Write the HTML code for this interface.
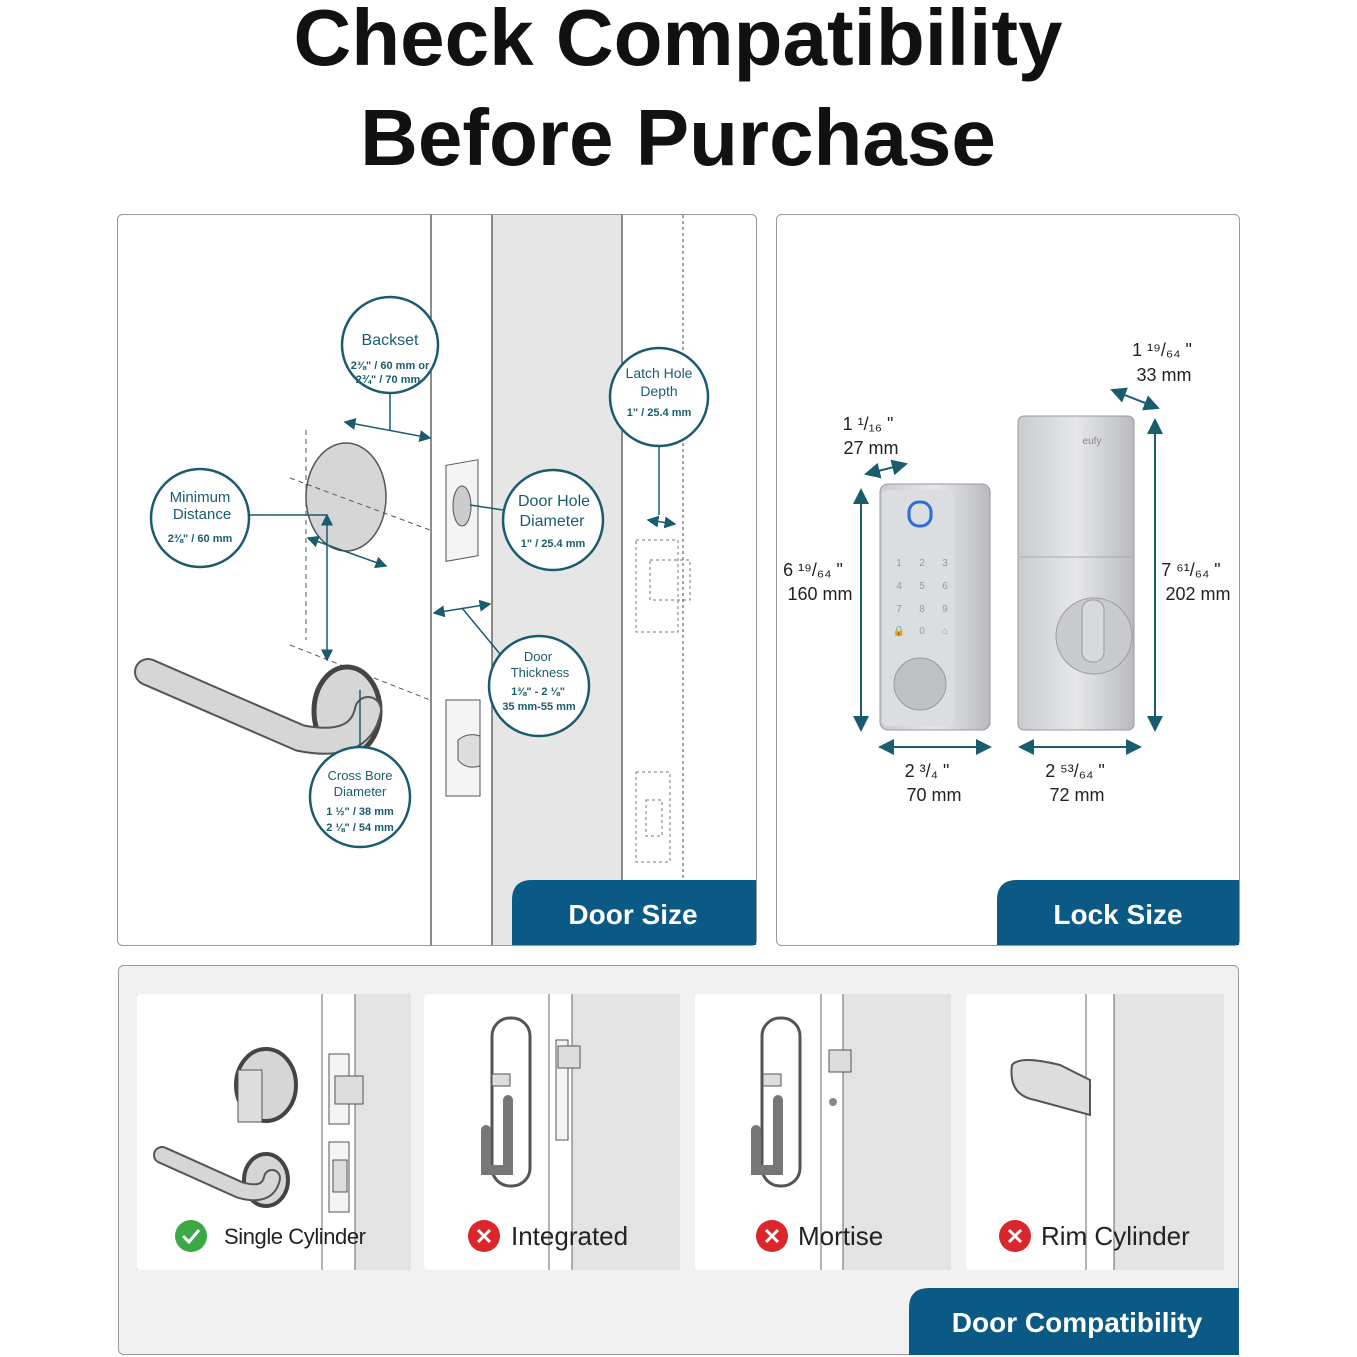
<!DOCTYPE html>
<html><head><meta charset="utf-8"><style>
html,body{margin:0;padding:0;background:#fff}
svg{display:block}
text{font-family:"Liberation Sans","DejaVu Sans",sans-serif}
</style></head><body>
<svg width="1357" height="1357" viewBox="0 0 1357 1357" xmlns="http://www.w3.org/2000/svg">
<defs>
<linearGradient id="sil" x1="0" x2="1"><stop offset="0" stop-color="#c9cbcf"/><stop offset="0.5" stop-color="#e6e7e9"/><stop offset="1" stop-color="#b9bbbf"/></linearGradient>
<marker id="ar" markerWidth="8" markerHeight="8" refX="7" refY="4" orient="auto-start-reverse"><path d="M0,0 L8,4 L0,8 z" fill="#1a5c6e"/></marker>
</defs>
<rect width="1357" height="1357" fill="#fff"/>
<text x="678" y="65" font-size="80" font-weight="bold" text-anchor="middle" fill="#111">Check Compatibility</text>
<text x="678" y="165" font-size="80" font-weight="bold" text-anchor="middle" fill="#111">Before Purchase</text>

<!-- Panel 1 -->
<rect x="117.5" y="214.5" width="639" height="731" rx="5" fill="#fff" stroke="#999"/>
<rect x="492" y="215" width="130" height="730" fill="#e6e6e6"/>
<line x1="431" y1="215" x2="431" y2="945" stroke="#666" stroke-width="1.5"/>
<line x1="492" y1="215" x2="492" y2="945" stroke="#666" stroke-width="1.5"/>
<line x1="622" y1="215" x2="622" y2="880" stroke="#666" stroke-width="1.5"/>
<line x1="683" y1="215" x2="683" y2="880" stroke="#666" stroke-width="1.2" stroke-dasharray="3,3"/>
<rect x="446" y="462" width="32" height="96" fill="#f4f4f4" stroke="#555" transform="skewY(-10) translate(0,82)"/>
<ellipse cx="462" cy="506" rx="9" ry="20" fill="#ccc" stroke="#555"/>
<rect x="446" y="700" width="34" height="96" fill="#f4f4f4" stroke="#555"/>
<path d="M458 740 q10 -8 22 -4 v30 q-14 4 -22 -6z" fill="#ddd" stroke="#555"/>
<rect x="636" y="540" width="42" height="92" fill="none" stroke="#777" stroke-dasharray="3,3"/>
<rect x="650" y="560" width="40" height="40" fill="none" stroke="#777" stroke-dasharray="3,3"/>
<rect x="636" y="772" width="34" height="90" fill="none" stroke="#777" stroke-dasharray="3,3"/>
<rect x="646" y="800" width="16" height="36" fill="none" stroke="#777" stroke-dasharray="3,3"/>
<ellipse cx="346" cy="497" rx="40" ry="54" fill="#d6d6d6" stroke="#555" stroke-width="1.5"/>
<line x1="290" y1="478" x2="430" y2="530" stroke="#555" stroke-dasharray="5,4"/>
<line x1="306" y1="430" x2="306" y2="640" stroke="#555" stroke-dasharray="5,4"/>
<line x1="290" y1="645" x2="430" y2="700" stroke="#555" stroke-dasharray="5,4"/>
<ellipse cx="347" cy="711" rx="33" ry="44" fill="#d6d6d6" stroke="#444" stroke-width="5"/>
<path d="M148 672 L300 738 Q360 750 368 710" fill="none" stroke="#555" stroke-width="28" stroke-linecap="round"/>
<path d="M148 672 L300 738 Q360 750 368 710" fill="none" stroke="#d6d6d6" stroke-width="24" stroke-linecap="round"/>
<g stroke="#1a5c6e" stroke-width="1.5" fill="none">
<line x1="345" y1="422" x2="430" y2="438" marker-start="url(#ar)" marker-end="url(#ar)"/>
<line x1="390" y1="393" x2="390" y2="430"/>
<line x1="248" y1="515" x2="327" y2="515"/>
<line x1="308" y1="538" x2="386" y2="566" marker-start="url(#ar)" marker-end="url(#ar)"/>
<line x1="327" y1="515" x2="327" y2="660" marker-start="url(#ar)" marker-end="url(#ar)"/>
<line x1="360" y1="690" x2="360" y2="747"/>
<line x1="470" y1="505" x2="503" y2="510"/>
<line x1="434" y1="613" x2="490" y2="604" marker-start="url(#ar)" marker-end="url(#ar)"/>
<line x1="462" y1="608" x2="500" y2="654"/>
<line x1="659" y1="447" x2="659" y2="515"/>
<line x1="648" y1="520" x2="675" y2="524" marker-start="url(#ar)" marker-end="url(#ar)"/>
</g>
<g fill="#fff" stroke="#1a5c6e" stroke-width="2.5">
<circle cx="390" cy="345" r="48"/><circle cx="200" cy="518" r="49"/><circle cx="553" cy="520" r="50"/>
<circle cx="659" cy="397" r="49"/><circle cx="539" cy="686" r="50"/><circle cx="360" cy="797" r="50"/>
</g>
<g fill="#1a5c6e" text-anchor="middle">
<text x="390" y="345" font-size="16">Backset</text>
<text x="390" y="369" font-size="11" font-weight="bold">2⅜" / 60 mm or</text>
<text x="388" y="383" font-size="11" font-weight="bold">2¾" / 70 mm</text>
<text x="200" y="502" font-size="15">Minimum</text><text x="202" y="519" font-size="15">Distance</text>
<text x="200" y="542" font-size="11" font-weight="bold">2⅜" / 60 mm</text>
<text x="554" y="506" font-size="16">Door Hole</text><text x="552" y="526" font-size="16">Diameter</text>
<text x="553" y="547" font-size="11" font-weight="bold">1" / 25.4 mm</text>
<text x="659" y="378" font-size="14">Latch Hole</text><text x="659" y="396" font-size="14">Depth</text>
<text x="659" y="416" font-size="11" font-weight="bold">1" / 25.4 mm</text>
<text x="538" y="661" font-size="13">Door</text><text x="540" y="677" font-size="13">Thickness</text>
<text x="538" y="695" font-size="11" font-weight="bold">1⅜" - 2 ⅛"</text>
<text x="539" y="710" font-size="11" font-weight="bold">35 mm-55 mm</text>
<text x="360" y="780" font-size="13">Cross Bore</text><text x="360" y="796" font-size="13">Diameter</text>
<text x="360" y="815" font-size="11" font-weight="bold">1 ½" / 38 mm</text>
<text x="360" y="831" font-size="11" font-weight="bold">2 ⅛" / 54 mm</text>
</g>
<path d="M512 945 V900 Q512 880 532 880 H756 V945 Z" fill="#0b5a86"/>
<text x="633" y="924" font-size="28" font-weight="bold" fill="#fff" text-anchor="middle">Door Size</text>

<!-- Panel 2 -->
<rect x="776.5" y="214.5" width="463" height="731" rx="5" fill="#fff" stroke="#999"/>
<rect x="880" y="484" width="110" height="246" rx="8" fill="url(#sil)" stroke="#999"/>
<rect x="882" y="490" width="72" height="236" rx="6" fill="#dcdde0"/>
<rect x="909" y="502" width="22" height="24" rx="10" fill="none" stroke="#2a6fd6" stroke-width="3"/>
<g font-size="10" fill="#999" text-anchor="middle">
<text x="899" y="566">1</text><text x="922" y="566">2</text><text x="945" y="566">3</text>
<text x="899" y="589">4</text><text x="922" y="589">5</text><text x="945" y="589">6</text>
<text x="899" y="612">7</text><text x="922" y="612">8</text><text x="945" y="612">9</text>
<text x="899" y="634">🔒</text><text x="922" y="634">0</text><text x="945" y="634">⌂</text>
</g>
<circle cx="920" cy="684" r="26" fill="#bfc1c4" stroke="#999"/>
<rect x="1018" y="416" width="116" height="314" rx="6" fill="url(#sil)" stroke="#999"/>
<line x1="1020" y1="557" x2="1132" y2="557" stroke="#aaa"/>
<text x="1092" y="444" font-size="10" fill="#888" text-anchor="middle">eufy</text>
<circle cx="1094" cy="636" r="38" fill="#c8cacd" stroke="#999"/>
<rect x="1082" y="600" width="22" height="62" rx="10" fill="#d8d9dc" stroke="#999"/>
<g stroke="#1a5c6e" stroke-width="2" fill="none">
<line x1="861" y1="490" x2="861" y2="730" marker-start="url(#ar)" marker-end="url(#ar)"/>
<line x1="1155" y1="420" x2="1155" y2="730" marker-start="url(#ar)" marker-end="url(#ar)"/>
<line x1="866" y1="474" x2="906" y2="464" marker-start="url(#ar)" marker-end="url(#ar)"/>
<line x1="1112" y1="390" x2="1158" y2="408" marker-start="url(#ar)" marker-end="url(#ar)"/>
<line x1="880" y1="747" x2="990" y2="747" marker-start="url(#ar)" marker-end="url(#ar)"/>
<line x1="1020" y1="747" x2="1140" y2="747" marker-start="url(#ar)" marker-end="url(#ar)"/>
</g>
<g font-size="18" fill="#222" text-anchor="middle">
<text x="1162" y="356">1 ¹⁹/₆₄ "</text><text x="1164" y="381">33 mm</text>
<text x="868" y="430">1 ¹/₁₆ "</text><text x="871" y="454">27 mm</text>
<text x="813" y="576">6 ¹⁹/₆₄ "</text><text x="820" y="600">160 mm</text>
<text x="1191" y="576">7 ⁶¹/₆₄ "</text><text x="1198" y="600">202 mm</text>
<text x="927" y="777">2 ³/₄ "</text><text x="934" y="801">70 mm</text>
<text x="1075" y="777">2 ⁵³/₆₄ "</text><text x="1077" y="801">72 mm</text>
</g>
<path d="M997 945 V900 Q997 880 1017 880 H1239 V945 Z" fill="#0b5a86"/>
<text x="1118" y="924" font-size="28" font-weight="bold" fill="#fff" text-anchor="middle">Lock  Size</text>

<!-- Panel 3 -->
<rect x="118.5" y="965.5" width="1120" height="389" rx="5" fill="#f1f1f1" stroke="#999"/>
<g>
<rect x="137" y="994" width="274" height="276" rx="4" fill="#fff"/>
<rect x="355" y="994" width="56" height="276" fill="#e3e3e3"/>
<line x1="322" y1="994" x2="322" y2="1270" stroke="#666"/><line x1="355" y1="994" x2="355" y2="1270" stroke="#666"/>
<rect x="424" y="994" width="256" height="276" rx="4" fill="#fff"/>
<rect x="572" y="994" width="108" height="276" fill="#e3e3e3"/>
<line x1="549" y1="994" x2="549" y2="1270" stroke="#666"/><line x1="572" y1="994" x2="572" y2="1270" stroke="#666"/>
<rect x="695" y="994" width="256" height="276" rx="4" fill="#fff"/>
<rect x="843" y="994" width="108" height="276" fill="#e3e3e3"/>
<line x1="821" y1="994" x2="821" y2="1270" stroke="#666"/><line x1="843" y1="994" x2="843" y2="1270" stroke="#666"/>
<rect x="966" y="994" width="258" height="276" rx="4" fill="#fff"/>
<rect x="1114" y="994" width="110" height="276" fill="#e3e3e3"/>
<line x1="1086" y1="994" x2="1086" y2="1270" stroke="#666"/><line x1="1114" y1="994" x2="1114" y2="1270" stroke="#666"/>
</g>
<ellipse cx="266" cy="1085" rx="30" ry="36" fill="#d6d6d6" stroke="#444" stroke-width="4"/>
<rect x="238" y="1070" width="24" height="52" fill="#ddd" stroke="#555"/>
<ellipse cx="266" cy="1180" rx="22" ry="26" fill="#d6d6d6" stroke="#444" stroke-width="4"/>
<path d="M162 1155 L240 1190 Q268 1198 272 1178" fill="none" stroke="#555" stroke-width="18" stroke-linecap="round"/>
<path d="M162 1155 L240 1190 Q268 1198 272 1178" fill="none" stroke="#d6d6d6" stroke-width="14" stroke-linecap="round"/>
<rect x="329" y="1054" width="20" height="70" fill="#f4f4f4" stroke="#555"/><rect x="335" y="1076" width="28" height="28" fill="#ddd" stroke="#555"/>
<rect x="329" y="1142" width="20" height="70" fill="#f4f4f4" stroke="#555"/><rect x="333" y="1160" width="14" height="32" fill="#ddd" stroke="#555"/>
<g fill="#fff" stroke="#555" stroke-width="3">
<rect x="492" y="1018" width="38" height="168" rx="18"/><rect x="762" y="1018" width="38" height="168" rx="18"/>
</g>
<path d="M508 1100 V1170 h-22 v-40" fill="none" stroke="#777" stroke-width="10" stroke-linecap="round"/>
<path d="M778 1100 V1170 h-22 v-40" fill="none" stroke="#777" stroke-width="10" stroke-linecap="round"/>
<rect x="492" y="1074" width="18" height="12" fill="#ddd" stroke="#555"/><rect x="763" y="1074" width="18" height="12" fill="#ddd" stroke="#555"/>
<rect x="556" y="1040" width="12" height="100" fill="#f4f4f4" stroke="#555"/><rect x="558" y="1046" width="22" height="22" fill="#ddd" stroke="#555"/>
<rect x="829" y="1050" width="22" height="22" fill="#ddd" stroke="#555"/><circle cx="833" cy="1102" r="4" fill="#888"/>
<path d="M1012 1065 Q1020 1055 1060 1065 L1090 1080 V1115 L1035 1100 Q1008 1095 1012 1065Z" fill="#ddd" stroke="#555" stroke-width="2"/>
<circle cx="191" cy="1236" r="16" fill="#3aa845"/><path d="M183 1236 l6 6 l10 -12" stroke="#fff" stroke-width="3" fill="none"/>
<circle cx="484" cy="1236" r="16" fill="#d9262b"/><circle cx="772" cy="1236" r="16" fill="#d9262b"/><circle cx="1015" cy="1236" r="16" fill="#d9262b"/>
<g stroke="#fff" stroke-width="3"><path d="M478 1230l12 12M490 1230l-12 12"/><path d="M766 1230l12 12M778 1230l-12 12"/><path d="M1009 1230l12 12M1021 1230l-12 12"/></g>
<g font-size="22" fill="#222">
<text x="224" y="1244" textLength="142">Single Cylinder</text><text x="511" y="1245" font-size="26">Integrated</text>
<text x="798" y="1245" font-size="26">Mortise</text><text x="1041" y="1245" font-size="26">Rim Cylinder</text>
</g>
<path d="M909 1355 V1308 Q909 1288 929 1288 H1239 V1355 Z" fill="#0b5a86"/>
<text x="1077" y="1332" font-size="28" font-weight="bold" fill="#fff" text-anchor="middle">Door Compatibility</text>
</svg>
</body></html>
